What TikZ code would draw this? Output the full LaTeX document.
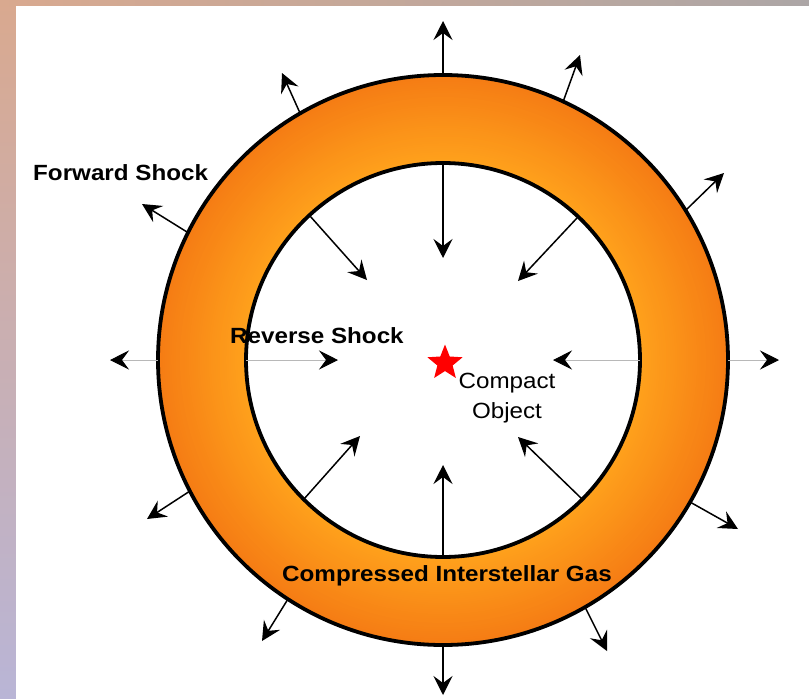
\documentclass[tikz,border=0pt]{standalone}
\usepackage{fontspec}
\setmainfont{Liberation Sans}
\newfontfamily\lblfont[FakeStretch=1.1]{Liberation Sans}
\usetikzlibrary{arrows.meta,shapes.geometric}
\definecolor{ringdark}{HTML}{F57C14}
\definecolor{ringlight}{HTML}{FFA21C}
\definecolor{skytop}{HTML}{D9A98F}
\definecolor{skymid}{HTML}{DEB791}
\definecolor{skylow}{HTML}{B9B5D6}
\definecolor{skygray}{HTML}{ACA6A6}
\definecolor{axisgray}{HTML}{B8B8B8}
\tikzset{
  shock/.style={line width=1.5pt,-{Stealth[length=19pt,width=19pt,inset=7pt]}},
  flat/.style={draw=axisgray,line width=0.9pt,-{Stealth[length=19pt,width=19pt,inset=7pt,color=black]}},
  lbl/.style={font=\lblfont\bfseries\fontsize{22}{26}\selectfont,inner sep=0pt},
}
\begin{document}
\begin{tikzpicture}[x=1pt,y=-1pt]
\useasboundingbox (0,0) rectangle (809,699);
\shade[top color=skytop,middle color=skymid,bottom color=skylow] (0,0) rectangle (809,699);
\shade[left color=skytop,right color=skygray] (0,0) rectangle (809,6);
\fill[white] (16,6) rectangle (809,699);
\coordinate (c) at (443,360);
\foreach \k in {0,...,40}{
\pgfmathtruncatemacro\mix{\k*2.5}
\fill[ringlight!\mix!ringdark] (c) circle[radius=285-\k*2.2];}
\fill[white] (c) circle[radius=197];
\draw[line width=3.8pt] (c) circle[radius=285];
\draw[line width=3.8pt] (c) circle[radius=197];
\foreach \n/\ax/\ay/\bx/\by in {1/443/77/443/21,2/563/102/580/55,3/300/113/282/73,
4/686/210/724/173,5/187/232/142/204,8/190/491/147/519,9/690/502/738/529,
10/288/599/262/641,11/585/607/607/651,12/443/645/443/695}{
\coordinate (fs\n) at (\ax,\ay);
\coordinate (fo\n) at (\bx,\by);
\draw[shock] (fs\n) -- (fo\n);}
\foreach \n/\ax/\ay/\bx/\by in {1/443/163/443/258,2/310/216/367/280,3/577/218/518/281,
6/304/499/360/436,7/582/499/518/437,8/443/557/443/465}{
\coordinate (rs\n) at (\ax,\ay);
\coordinate (ri\n) at (\bx,\by);
\draw[shock] (rs\n) -- (ri\n);}
\coordinate (fsl) at (158,360); \coordinate (fol) at (110,360);
\coordinate (fsr) at (728,360); \coordinate (for) at (779,360);
\coordinate (rsl) at (246,360); \coordinate (ril) at (338,360);
\coordinate (rsr) at (640,360); \coordinate (rir) at (553,360);
\draw[flat] (fsl) -- (fol);
\draw[flat] (fsr) -- (for);
\draw[flat] (rsl) -- (ril);
\draw[flat] (rsr) -- (rir);
\node[star,star points=5,star point ratio=2.3,fill=red,minimum size=37pt,inner sep=0pt] (obj) at (445,363) {};
\node[lbl,anchor=west] (fwd) at (33,173) {Forward Shock};
\node[lbl,anchor=west] (rev) at (230,336) {Reverse Shock};
\node[font=\lblfont\fontsize{22}{30}\selectfont,align=center,inner sep=0pt] (cobj) at (507,398) {Compact\\Object};
\node[lbl] (gas) at (447,576) {Compressed Interstellar Gas};
\end{tikzpicture}
\end{document}
